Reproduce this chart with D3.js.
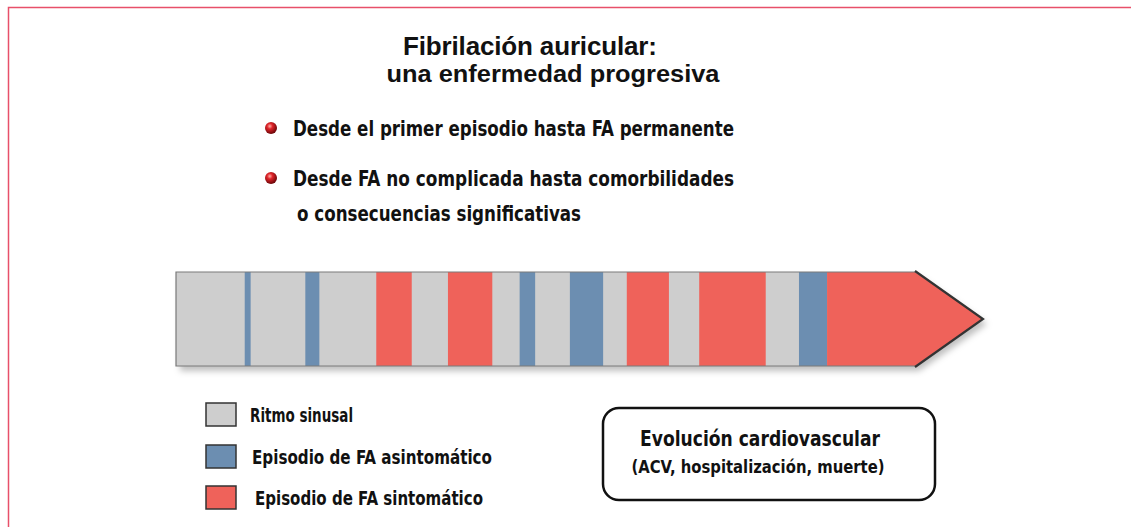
<!DOCTYPE html>
<html>
<head>
<meta charset="utf-8">
<script src="https://cdn.jsdelivr.net/npm/d3@7"></script>
<style>
  body { margin: 0; background: #fff; }
  .cond { font-family: "Liberation Sans Narrow", "DejaVu Sans Condensed", "DejaVu Sans", sans-serif; font-weight: bold; font-stretch: condensed; }
</style>
</head>
<body>
<div id="chart"></div>
<script>
// timeline: 0 = first recorded moment, 100 = end of bar body
const episodeTypes = ["asintomatico", "asintomatico", "sintomatico", "sintomatico", "asintomatico",
  "asintomatico", "sintomatico", "sintomatico", "asintomatico", "sintomatico"];
const episodeStart = [9.3, 17.5, 27.1, 36.8, 46.5, 53.3, 61.0, 70.8, 84.3, 88.1];
const episodeEnd = [10.1, 19.4, 31.9, 42.8, 48.6, 57.8, 66.7, 79.8, 88.1, 100];
const legendKeys = ["sinusal", "asintomatico", "sintomatico"];
const legendLabels = ["Ritmo sinusal", "Episodio de FA asintomático", "Episodio de FA sintomático"];
const bulletLines = ["Desde el primer episodio hasta FA permanente", "Desde FA no complicada hasta comorbilidades"];
const bulletCont = "o consecuencias significativas";

const width = 1131;
const height = 527;

const color = d3.scaleOrdinal()
  .domain(legendKeys)
  .range(["#cecece", "#6c8eb1", "#ef625a"]);

const svg = d3.select("#chart")
  .append("svg")
  .attr("width", width)
  .attr("height", height);

const defs = svg.append("defs");
const grad = defs.append("radialGradient").attr("id", "ball").attr("cx", "40%").attr("cy", "35%").attr("r", "65%");
grad.append("stop").attr("offset", "0%").attr("stop-color", "#ffb0a8");
grad.append("stop").attr("offset", "35%").attr("stop-color", "#e0252a");
grad.append("stop").attr("offset", "100%").attr("stop-color", "#6a0508");
const shadow = defs.append("filter").attr("id", "shadow").attr("x", "-5%").attr("y", "-20%").attr("width", "115%").attr("height", "150%");
shadow.append("feDropShadow").attr("dx", 4).attr("dy", 5).attr("stdDeviation", 3).attr("flood-color", "#000").attr("flood-opacity", 0.25);

// page frame
svg.append("path")
  .attr("d", `M8.5,${height} V7.5 H${width}`)
  .attr("fill", "none").attr("stroke", "#e8506a").attr("stroke-width", 1.5);

// titles
svg.append("text").attr("x", 530).attr("y", 55).attr("text-anchor", "middle")
  .style("font-family", "Liberation Sans, Arial, sans-serif").style("font-weight", "bold").style("font-size", "26px")
  .attr("fill", "#111").attr("textLength", 254).text("Fibrilación auricular:");
svg.append("text").attr("x", 553).attr("y", 82).attr("text-anchor", "middle")
  .style("font-family", "Liberation Sans, Arial, sans-serif").style("font-weight", "bold").style("font-size", "23px")
  .attr("fill", "#111").attr("textLength", 333).attr("lengthAdjust", "spacingAndGlyphs").text("una enfermedad progresiva");

// bullets
const bulletY = [128, 178];
const bulletW = [441, 441];
bulletLines.forEach((t, i) => {
  svg.append("circle").attr("cx", 271).attr("cy", bulletY[i]).attr("r", 6).attr("fill", "url(#ball)");
  svg.append("text").attr("class", "cond").attr("x", 293).attr("y", bulletY[i] + 8)
    .style("font-size", "22px").attr("fill", "#111")
    .attr("textLength", bulletW[i]).attr("lengthAdjust", "spacingAndGlyphs").text(t);
});
svg.append("text").attr("class", "cond").attr("x", 297).attr("y", 221)
  .style("font-size", "22px").attr("fill", "#111")
  .attr("textLength", 284).attr("lengthAdjust", "spacingAndGlyphs").text(bulletCont);

// timeline bar
const x = d3.scaleLinear().domain([0, 100]).range([176, 915]);
const y0 = 272, y1 = 366, tip = 983;
const bar = svg.append("g");
const shadowG = bar.append("g").attr("filter", "url(#shadow)");
shadowG.append("path")
  .attr("d", `M${x(0)},${y0} H${x(100)} L${tip},${(y0 + y1) / 2} L${x(100)},${y1} H${x(0)} Z`)
  .attr("fill", color("sinusal"));

const episodes = episodeTypes.map((t, i) => ({ type: t, start: episodeStart[i], end: episodeEnd[i] }));
bar.selectAll("rect.ep")
  .data(episodes.slice(0, -1))
  .enter()
  .append("rect")
  .attr("class", "ep")
  .attr("x", (d) => x(d.start))
  .attr("y", y0)
  .attr("width", (d) => x(d.end) - x(d.start))
  .attr("height", y1 - y0)
  .attr("fill", (d) => color(d.type));

const last = episodes[episodes.length - 1];
bar.append("path")
  .attr("d", `M${x(last.start)},${y0} H${x(last.end)} L${tip},${(y0 + y1) / 2} L${x(last.end)},${y1} H${x(last.start)} Z`)
  .attr("fill", color(last.type));

bar.append("path")
  .attr("d", `M${x(100)},${y0} H${x(0)} V${y1} H${x(100)}`)
  .attr("fill", "none").attr("stroke", "#7a7a7a").attr("stroke-width", 1.2);
bar.append("path")
  .attr("d", `M${x(100)},${y0 - 1} L${tip},${(y0 + y1) / 2} L${x(100)},${y1 + 1}`)
  .attr("fill", "none").attr("stroke", "#333").attr("stroke-width", 2.2);

// legend
const legY = [415, 457, 498];
const legTextX = [250, 252, 255];
const legTextW = [103, 240, 228];
const legend = svg.append("g").selectAll("g")
  .data(legendKeys)
  .enter()
  .append("g");
legend.append("rect")
  .attr("x", 206).attr("y", (d, i) => legY[i] - 12)
  .attr("width", 30).attr("height", 23)
  .attr("fill", (d) => color(d)).attr("stroke", "#333").attr("stroke-width", 1.5);
legend.append("text").attr("class", "cond")
  .attr("x", (d, i) => legTextX[i]).attr("y", (d, i) => legY[i] + 7)
  .style("font-size", "19px").attr("fill", "#111")
  .attr("textLength", (d, i) => legTextW[i]).attr("lengthAdjust", "spacingAndGlyphs")
  .text((d, i) => legendLabels[i]);

// outcome box
svg.append("rect").attr("x", 603).attr("y", 408).attr("width", 332).attr("height", 92).attr("rx", 16)
  .attr("fill", "#fff").attr("stroke", "#111").attr("stroke-width", 2.5);
svg.append("text").attr("class", "cond").attr("x", 760).attr("y", 446).attr("text-anchor", "middle")
  .style("font-size", "21px").attr("fill", "#111")
  .attr("textLength", 240).attr("lengthAdjust", "spacingAndGlyphs").text("Evolución cardiovascular");
svg.append("text").attr("class", "cond").attr("x", 758).attr("y", 473).attr("text-anchor", "middle")
  .style("font-size", "18px").attr("fill", "#111")
  .attr("textLength", 253).attr("lengthAdjust", "spacingAndGlyphs").text("(ACV, hospitalización, muerte)");
</script>
</body>
</html>
